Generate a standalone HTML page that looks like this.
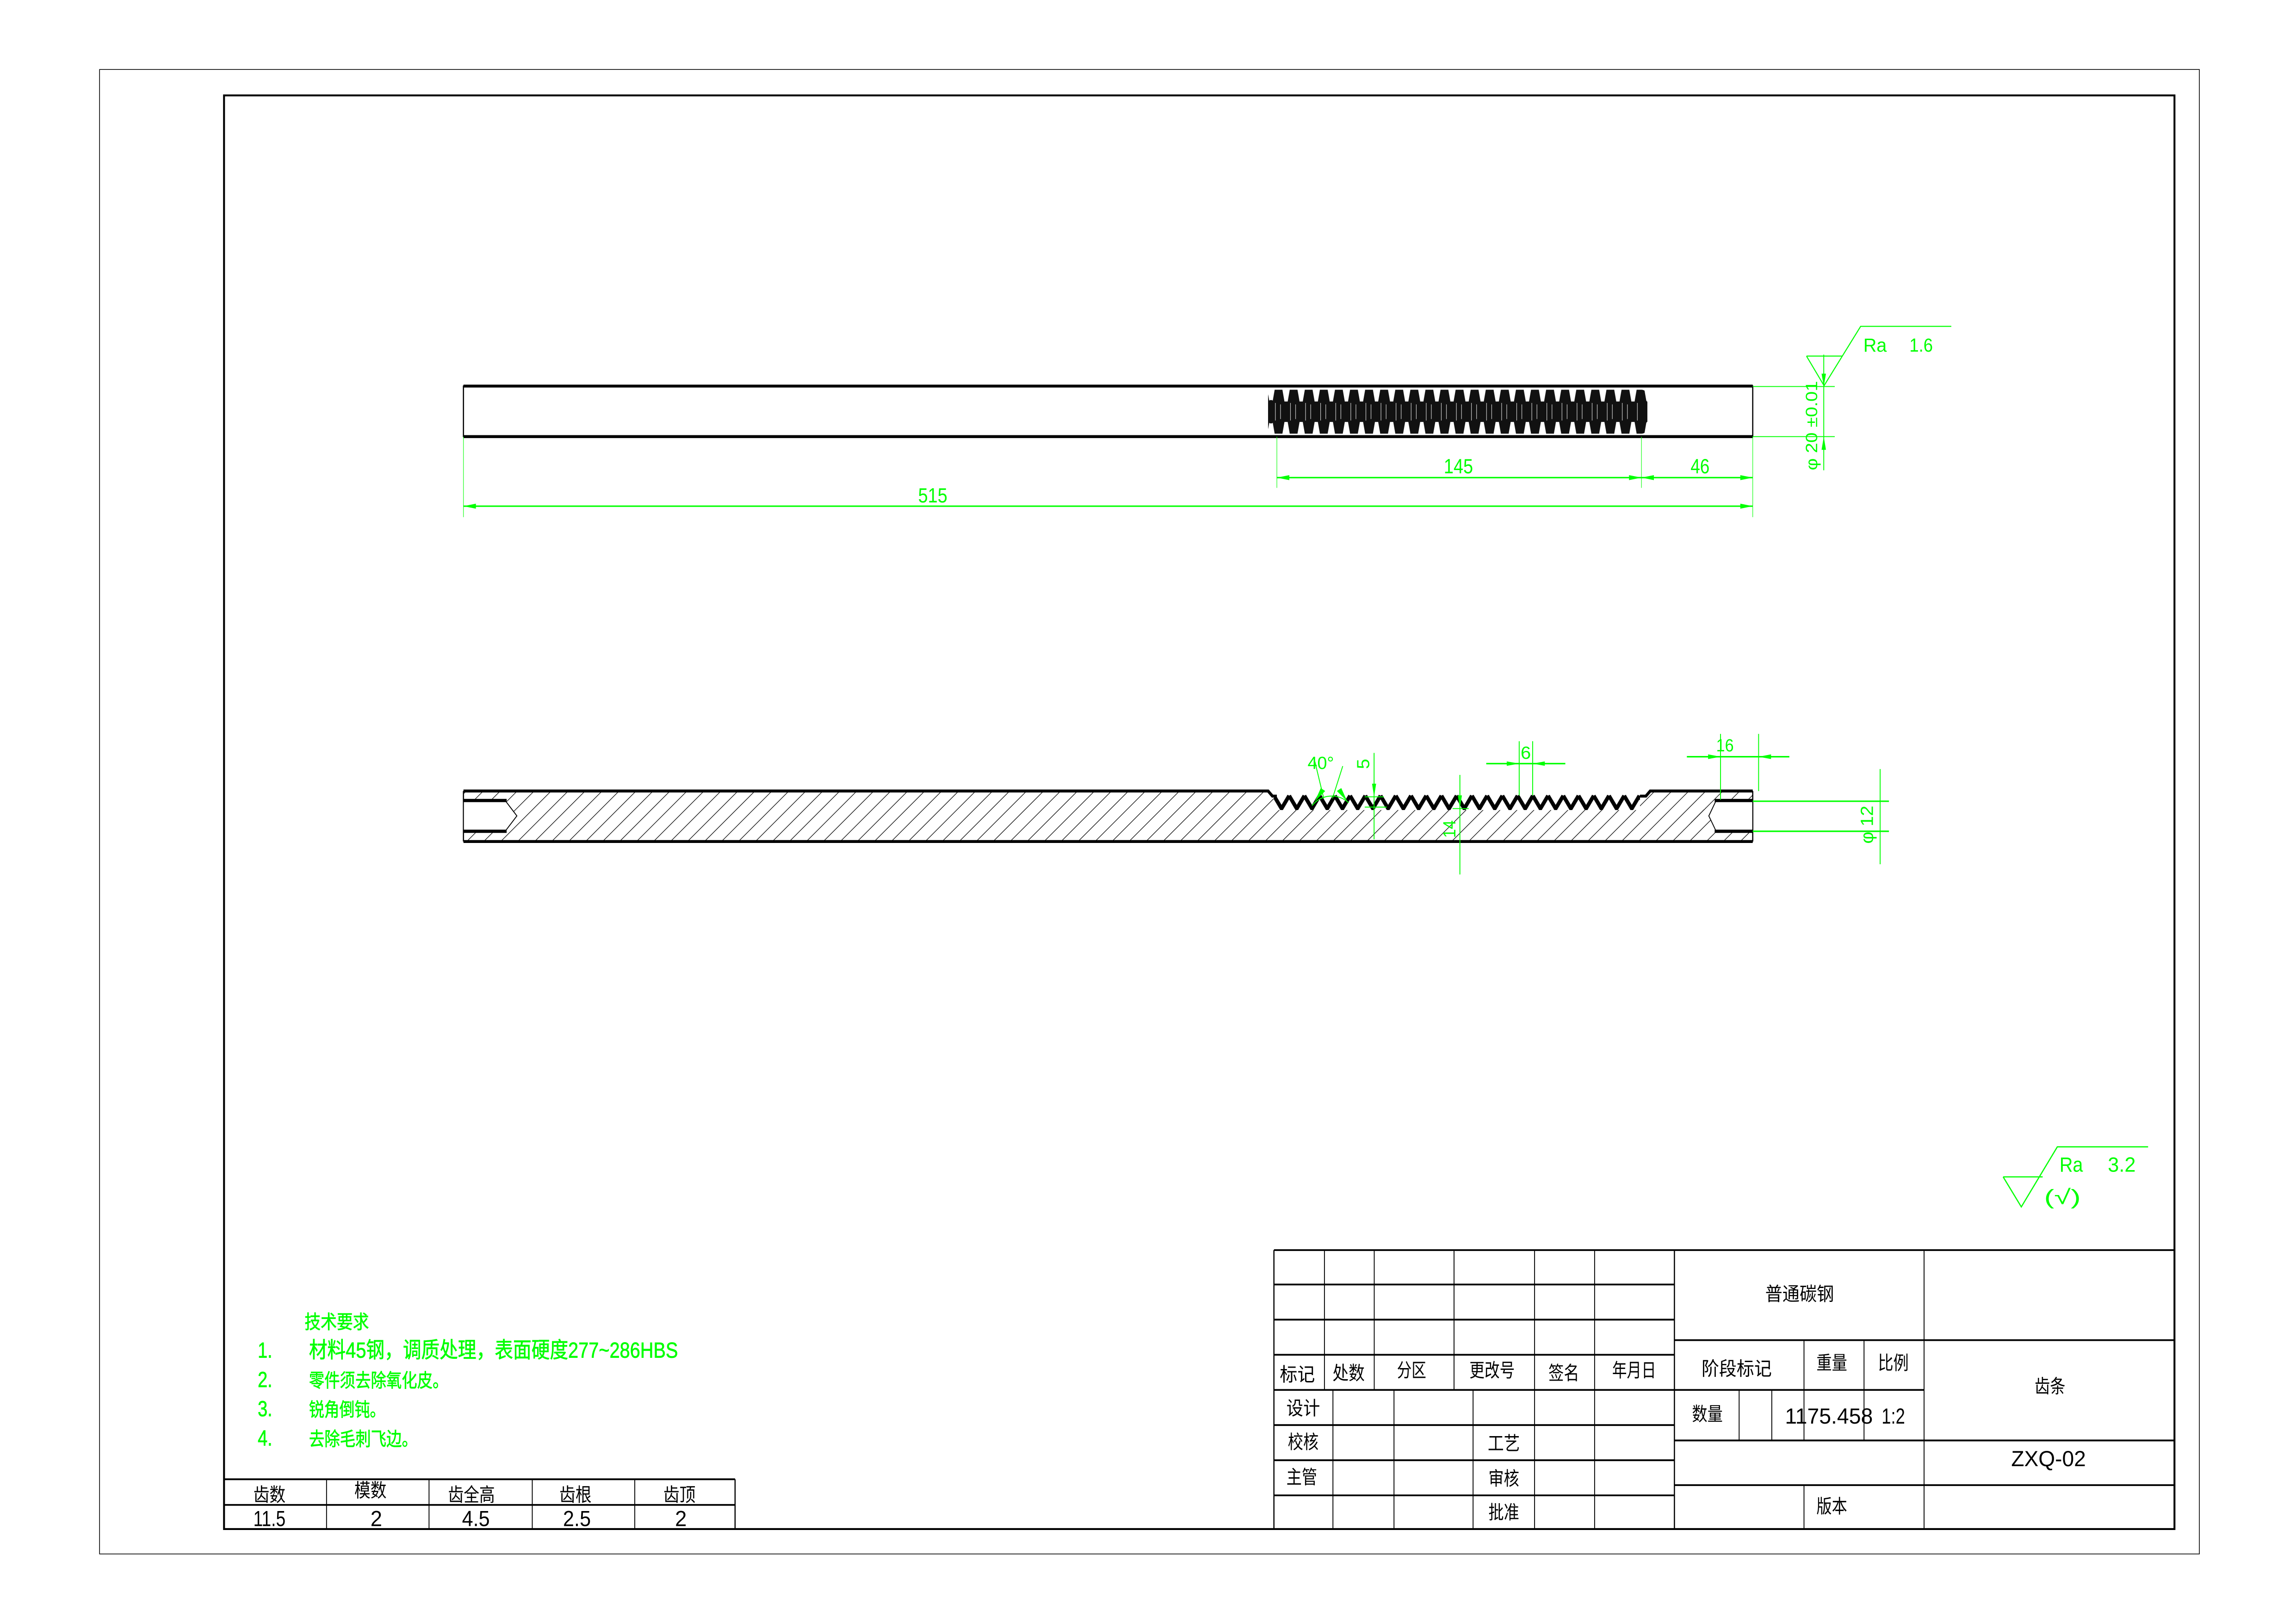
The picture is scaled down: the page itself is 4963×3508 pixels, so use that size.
<!DOCTYPE html>
<html><head><meta charset="utf-8"><style>
html,body{margin:0;padding:0;background:#fff;}
svg{display:block;}
text{font-family:"Liberation Sans","Noto Sans CJK SC",sans-serif;}
.g{fill:#00ff00;}
.k{fill:#000;}
</style></head><body>
<svg width="4963" height="3508" viewBox="0 0 1568 1108" xmlns="http://www.w3.org/2000/svg">
<defs>
<pattern id="hatch" patternUnits="userSpaceOnUse" width="8.2" height="8.2" patternTransform="rotate(45)">
<line x1="0" y1="0" x2="0" y2="8.2" stroke="#000" stroke-width="0.8"/>
</pattern>
<pattern id="teeth" patternUnits="userSpaceOnUse" x="870" y="542" width="10.4" height="12">
<path d="M0,1.2 L5.2,10 L10.4,1.2" fill="none" stroke="#000" stroke-width="2.6"/>
</pattern>
<pattern id="thread" patternUnits="userSpaceOnUse" x="868" y="266" width="10.3" height="30">
<rect x="0" y="0" width="10.3" height="30" fill="#111"/>
<polygon points="7.8,0 10.3,0 10.3,8 9.2,8" fill="#fff"/>
<polygon points="0,0 2.5,0 1.1,8 0,8" fill="#fff"/>
<polygon points="7.8,30 10.3,30 10.3,22 9.2,22" fill="#fff"/>
<polygon points="0,30 2.5,30 1.1,22 0,22" fill="#fff"/>
<line x1="3" y1="9" x2="3" y2="21" stroke="#fff" stroke-width="0.3"/>
<line x1="6.5" y1="10" x2="6.5" y2="20" stroke="#fff" stroke-width="0.3"/>
</pattern>
</defs>

<rect x="68" y="47.3" width="1434" height="1013.7" fill="none" stroke="#000" stroke-width="0.5"/>
<rect x="153" y="65" width="1332" height="979" fill="none" stroke="#000" stroke-width="1.3"/>

<!-- TOP VIEW -->
<rect x="316.5" y="263.5" width="880.5" height="34.5" fill="none" stroke="#000" stroke-width="0.8"/>
<line x1="316.5" y1="263.5" x2="1197" y2="263.5" stroke="#000" stroke-width="2"/>
<line x1="316.5" y1="298" x2="1197" y2="298" stroke="#000" stroke-width="2"/>
<rect x="866" y="266" width="259" height="30" rx="4" fill="url(#thread)"/>
<rect x="866" y="273" width="4" height="16" rx="2" fill="#111"/>
<rect x="1121" y="273" width="4" height="16" rx="2" fill="#111"/>

<g stroke="#00ff00" fill="none">
<line x1="316.5" y1="298" x2="316.5" y2="353" stroke-width="0.35"/>
<line x1="1197" y1="298" x2="1197" y2="353" stroke-width="0.35"/>
<line x1="872" y1="298" x2="872" y2="333" stroke-width="0.35"/>
<line x1="1121" y1="298" x2="1121" y2="333" stroke-width="0.35"/>
<line x1="316.5" y1="345.5" x2="1197" y2="345.5" stroke-width="1"/>
<line x1="872" y1="326" x2="1197" y2="326" stroke-width="1"/>
<line x1="1245.5" y1="242" x2="1245.5" y2="321" stroke-width="0.6"/>
<line x1="1197" y1="263.8" x2="1253" y2="263.8" stroke-width="0.6"/>
<line x1="1197" y1="298" x2="1253" y2="298" stroke-width="0.6"/>
<polyline points="1233.7,243 1258,243" stroke-width="0.7"/>
<polyline points="1233.7,243 1245.7,263.2 1270.7,222.7 1332.6,222.7" stroke-width="0.7"/>
</g>
<g class="g">
<polygon points="316.5,345.5 325,343.8 325,347.2"/>
<polygon points="1197,345.5 1188.5,343.8 1188.5,347.2"/>
<polygon points="872,326 880.5,324.3 880.5,327.7"/>
<polygon points="1121,326 1112.5,324.3 1112.5,327.7"/>
<polygon points="1121,326 1129.5,324.3 1129.5,327.7"/>
<polygon points="1197,326 1188.5,324.3 1188.5,327.7"/>
<polygon points="1245.5,263.8 1244,255 1247,255"/>
<polygon points="1245.5,298 1244,307 1247,307"/>
</g>
<g class="g" font-size="14">
<text x="637" y="343" text-anchor="middle" textLength="20" lengthAdjust="spacingAndGlyphs">515</text>
<text x="996" y="323" text-anchor="middle" textLength="20" lengthAdjust="spacingAndGlyphs">145</text>
<text x="1161" y="323" text-anchor="middle" textLength="13" lengthAdjust="spacingAndGlyphs">46</text>
<text x="1272.5" y="240" font-size="13" textLength="16" lengthAdjust="spacingAndGlyphs">Ra</text>
<text x="1304" y="240" font-size="13" textLength="16" lengthAdjust="spacingAndGlyphs">1.6</text>
<text transform="translate(1241,321) rotate(-90)" font-size="11" textLength="61" lengthAdjust="spacingAndGlyphs">φ 20 ±0.01</text>
</g>

<!-- SECTION VIEW -->
<rect x="316.5" y="540" width="880.5" height="34.5" fill="url(#hatch)"/>
<polygon points="866,539 869,543 874,543 1119,543 1123,543 1127,539" fill="#fff"/>
<rect x="870" y="542" width="250" height="11" fill="#fff"/>
<rect x="870" y="542" width="250" height="11" fill="url(#teeth)"/>
<g stroke="#000" fill="none">
<polyline points="316.5,540 866,540 869,543.5 872,543.5" stroke-width="2"/>
<polyline points="1120,543.5 1124,543.5 1127,540 1197,540" stroke-width="2"/>
<line x1="316.5" y1="574.5" x2="1197" y2="574.5" stroke-width="2"/>
<line x1="316.5" y1="540" x2="316.5" y2="574.5" stroke-width="0.8"/>
<line x1="1197" y1="540" x2="1197" y2="574.5" stroke-width="0.8"/>
</g>
<polygon points="316.5,546.5 345,546.5 353,557 345,567.5 316.5,567.5" fill="#fff" stroke="#000" stroke-width="0.6"/>
<line x1="316.5" y1="546.5" x2="346" y2="546.5" stroke="#000" stroke-width="2.2"/>
<line x1="316.5" y1="567.5" x2="346" y2="567.5" stroke="#000" stroke-width="2.2"/>
<polygon points="1197,546.5 1172,546.5 1167,557 1172,567.5 1197,567.5" fill="#fff" stroke="#000" stroke-width="0.6"/>
<line x1="1171" y1="546.5" x2="1197" y2="546.5" stroke="#000" stroke-width="2.2"/>
<line x1="1171" y1="567.5" x2="1197" y2="567.5" stroke="#000" stroke-width="2.2"/>

<g stroke="#00ff00" fill="none" stroke-width="0.6">
<path d="M896,550 A17,17 0 0 1 921,548"/>
<line x1="898" y1="520" x2="904" y2="545"/>
<line x1="917" y1="523" x2="910" y2="545"/>
<line x1="938.4" y1="514" x2="938.4" y2="573"/>
<line x1="932" y1="544" x2="945" y2="544"/>
<line x1="932" y1="551" x2="947" y2="551"/>
<line x1="997" y1="529" x2="997" y2="597"/>
<line x1="992" y1="552" x2="1003" y2="552"/>
<line x1="1037.5" y1="506" x2="1037.5" y2="543"/>
<line x1="1046.7" y1="506" x2="1046.7" y2="543"/>
<line x1="1015" y1="521.3" x2="1069" y2="521.3" stroke-width="1"/>
<line x1="1175" y1="501" x2="1175" y2="546"/>
<line x1="1201" y1="501" x2="1201" y2="540"/>
<line x1="1152" y1="516.6" x2="1222" y2="516.6" stroke-width="1"/>
<line x1="1284" y1="525" x2="1284" y2="590"/>
<line x1="1197" y1="547" x2="1290" y2="547" stroke-width="1"/>
<line x1="1197" y1="567.5" x2="1290" y2="567.5" stroke-width="1"/>
</g>
<g class="g">
<polygon points="898,547 902,538 905,540"/>
<polygon points="920,547 916,538 913,540"/>
<polygon points="938.4,544 937,535 939.8,535"/>
<polygon points="997,552 995.6,543 998.4,543"/>
<polygon points="1037.5,521.3 1029,519.8 1029,522.8"/>
<polygon points="1046.7,521.3 1055,519.8 1055,522.8"/>
<polygon points="1175,516.6 1166.5,515 1166.5,518.2"/>
<polygon points="1201,516.6 1209.5,515 1209.5,518.2"/>
</g>
<g class="g" font-size="12">
<text x="893" y="525" textLength="18" lengthAdjust="spacingAndGlyphs">40°</text>
<text transform="translate(935,525) rotate(-90)" textLength="7" lengthAdjust="spacingAndGlyphs">5</text>
<text x="1042" y="518" text-anchor="middle" textLength="7" lengthAdjust="spacingAndGlyphs">6</text>
<text x="1178" y="513" text-anchor="middle" textLength="12" lengthAdjust="spacingAndGlyphs">16</text>
<text transform="translate(994,572) rotate(-90)" textLength="12" lengthAdjust="spacingAndGlyphs">14</text>
<text transform="translate(1279,576) rotate(-90)" textLength="26" lengthAdjust="spacingAndGlyphs">φ 12</text>
</g>

<g stroke="#00ff00" fill="none" stroke-width="0.8">
<polyline points="1368,803.5 1395,803.5"/>
<polyline points="1368,803.5 1380.4,824 1405,783 1467,783"/>
</g>
<g class="g" font-size="14">
<text x="1406.5" y="800" textLength="16" lengthAdjust="spacingAndGlyphs">Ra</text>
<text x="1439.5" y="800" textLength="19" lengthAdjust="spacingAndGlyphs">3.2</text>
<text x="1396" y="822" textLength="25" lengthAdjust="spacingAndGlyphs">(√)</text>
</g>

<g class="g" font-size="13" stroke="#00ff00" stroke-width="0.25">
<text x="208" y="907" textLength="44" lengthAdjust="spacingAndGlyphs">技术要求</text>
<text x="176" y="927" font-size="15" textLength="10" lengthAdjust="spacingAndGlyphs">1.</text>
<text x="211" y="927" font-size="15" textLength="252" lengthAdjust="spacingAndGlyphs">材料45钢，调质处理，表面硬度277~286HBS</text>
<text x="176" y="947" font-size="15" textLength="10" lengthAdjust="spacingAndGlyphs">2.</text>
<text x="211" y="947" textLength="95" lengthAdjust="spacingAndGlyphs">零件须去除氧化皮。</text>
<text x="176" y="967" font-size="15" textLength="10" lengthAdjust="spacingAndGlyphs">3.</text>
<text x="211" y="967" textLength="52" lengthAdjust="spacingAndGlyphs">锐角倒钝。</text>
<text x="176" y="987" font-size="15" textLength="10" lengthAdjust="spacingAndGlyphs">4.</text>
<text x="211" y="987" textLength="74" lengthAdjust="spacingAndGlyphs">去除毛刺飞边。</text>
</g>

<g stroke="#000" fill="none">
<line x1="153" y1="1010" x2="502" y2="1010" stroke-width="1.2"/>
<line x1="153" y1="1027.5" x2="502" y2="1027.5" stroke-width="1.2"/>
<line x1="502" y1="1010" x2="502" y2="1044" stroke-width="0.8"/>
<line x1="223" y1="1010" x2="223" y2="1044" stroke-width="0.6"/>
<line x1="293" y1="1010" x2="293" y2="1044" stroke-width="0.6"/>
<line x1="363.5" y1="1010" x2="363.5" y2="1044" stroke-width="0.6"/>
<line x1="433.5" y1="1010" x2="433.5" y2="1044" stroke-width="0.6"/>
</g>
<g class="k" font-size="13" text-anchor="middle">
<text x="184" y="1025" textLength="22" lengthAdjust="spacingAndGlyphs">齿数</text>
<text x="253" y="1022" textLength="22" lengthAdjust="spacingAndGlyphs">模数</text>
<text x="322" y="1025" textLength="32" lengthAdjust="spacingAndGlyphs">齿全高</text>
<text x="393" y="1025" textLength="22" lengthAdjust="spacingAndGlyphs">齿根</text>
<text x="464" y="1025" textLength="22" lengthAdjust="spacingAndGlyphs">齿顶</text>
<text x="184" y="1042" font-size="15" textLength="22" lengthAdjust="spacingAndGlyphs">11.5</text>
<text x="257" y="1042" font-size="15" textLength="8" lengthAdjust="spacingAndGlyphs">2</text>
<text x="325" y="1042" font-size="15" textLength="19" lengthAdjust="spacingAndGlyphs">4.5</text>
<text x="394" y="1042" font-size="15" textLength="19" lengthAdjust="spacingAndGlyphs">2.5</text>
<text x="465" y="1042" font-size="15" textLength="8" lengthAdjust="spacingAndGlyphs">2</text>
</g>

<g stroke="#000" fill="none">
<line x1="870" y1="853.5" x2="1485" y2="853.5" stroke-width="1.2"/>
<line x1="870" y1="877" x2="1143.5" y2="877" stroke-width="1.2"/>
<line x1="870" y1="901" x2="1143.5" y2="901" stroke-width="1.2"/>
<line x1="870" y1="925" x2="1143.5" y2="925" stroke-width="1.2"/>
<line x1="870" y1="949" x2="1143.5" y2="949" stroke-width="1.2"/>
<line x1="870" y1="973" x2="1143.5" y2="973" stroke-width="1.2"/>
<line x1="870" y1="997" x2="1143.5" y2="997" stroke-width="1.2"/>
<line x1="870" y1="1021" x2="1143.5" y2="1021" stroke-width="1.2"/>
<line x1="1143.5" y1="915" x2="1485" y2="915" stroke-width="1.2"/>
<line x1="1143.5" y1="949" x2="1314" y2="949" stroke-width="1.2"/>
<line x1="1143.5" y1="983.5" x2="1485" y2="983.5" stroke-width="1.2"/>
<line x1="1143.5" y1="1014" x2="1485" y2="1014" stroke-width="1.2"/>
<line x1="870" y1="853.5" x2="870" y2="1044" stroke-width="0.8"/>
<line x1="904.5" y1="853.5" x2="904.5" y2="949" stroke-width="0.6"/>
<line x1="938.5" y1="853.5" x2="938.5" y2="949" stroke-width="0.6"/>
<line x1="993" y1="853.5" x2="993" y2="949" stroke-width="0.6"/>
<line x1="910.3" y1="949" x2="910.3" y2="1044" stroke-width="0.6"/>
<line x1="952" y1="949" x2="952" y2="1044" stroke-width="0.6"/>
<line x1="1006" y1="949" x2="1006" y2="1044" stroke-width="0.6"/>
<line x1="1048" y1="853.5" x2="1048" y2="1044" stroke-width="0.6"/>
<line x1="1089" y1="853.5" x2="1089" y2="1044" stroke-width="0.6"/>
<line x1="1143.5" y1="853.5" x2="1143.5" y2="1044" stroke-width="0.8"/>
<line x1="1314" y1="853.5" x2="1314" y2="1044" stroke-width="0.6"/>
<line x1="1232" y1="915" x2="1232" y2="983.5" stroke-width="0.6"/>
<line x1="1273" y1="915" x2="1273" y2="983.5" stroke-width="0.6"/>
<line x1="1187.7" y1="949" x2="1187.7" y2="983.5" stroke-width="0.6"/>
<line x1="1210" y1="949" x2="1210" y2="983.5" stroke-width="0.6"/>
<line x1="1232" y1="1014" x2="1232" y2="1044" stroke-width="0.6"/>
</g>
<g class="k" font-size="13" text-anchor="middle">
<text x="886" y="943" textLength="24" lengthAdjust="spacingAndGlyphs">标记</text>
<text x="921" y="942" textLength="22" lengthAdjust="spacingAndGlyphs">处数</text>
<text x="964" y="940" textLength="20" lengthAdjust="spacingAndGlyphs">分区</text>
<text x="1019" y="940" textLength="31" lengthAdjust="spacingAndGlyphs">更改号</text>
<text x="1068" y="942" textLength="21" lengthAdjust="spacingAndGlyphs">签名</text>
<text x="1116" y="940" textLength="30" lengthAdjust="spacingAndGlyphs">年月日</text>
<text x="890" y="966" textLength="23" lengthAdjust="spacingAndGlyphs">设计</text>
<text x="890" y="989" textLength="21" lengthAdjust="spacingAndGlyphs">校核</text>
<text x="889" y="1013" textLength="21" lengthAdjust="spacingAndGlyphs">主管</text>
<text x="1027" y="990" textLength="22" lengthAdjust="spacingAndGlyphs">工艺</text>
<text x="1027" y="1014" textLength="21" lengthAdjust="spacingAndGlyphs">审核</text>
<text x="1027" y="1037" textLength="21" lengthAdjust="spacingAndGlyphs">批准</text>
<text x="1229" y="888" textLength="47" lengthAdjust="spacingAndGlyphs">普通碳钢</text>
<text x="1186" y="939" textLength="48" lengthAdjust="spacingAndGlyphs">阶段标记</text>
<text x="1251" y="935" textLength="21" lengthAdjust="spacingAndGlyphs">重量</text>
<text x="1293" y="935" textLength="21" lengthAdjust="spacingAndGlyphs">比例</text>
<text x="1166" y="970" textLength="21" lengthAdjust="spacingAndGlyphs">数量</text>
<text x="1249" y="972" font-size="15" textLength="60" lengthAdjust="spacingAndGlyphs">1175.458</text>
<text x="1293" y="972" font-size="15" textLength="16" lengthAdjust="spacingAndGlyphs">1:2</text>
<text x="1400" y="951" textLength="21" lengthAdjust="spacingAndGlyphs">齿条</text>
<text x="1399" y="1001" font-size="15" textLength="51" lengthAdjust="spacingAndGlyphs">ZXQ-02</text>
<text x="1251" y="1033" textLength="21" lengthAdjust="spacingAndGlyphs">版本</text>
</g>
</svg>
</body></html>
